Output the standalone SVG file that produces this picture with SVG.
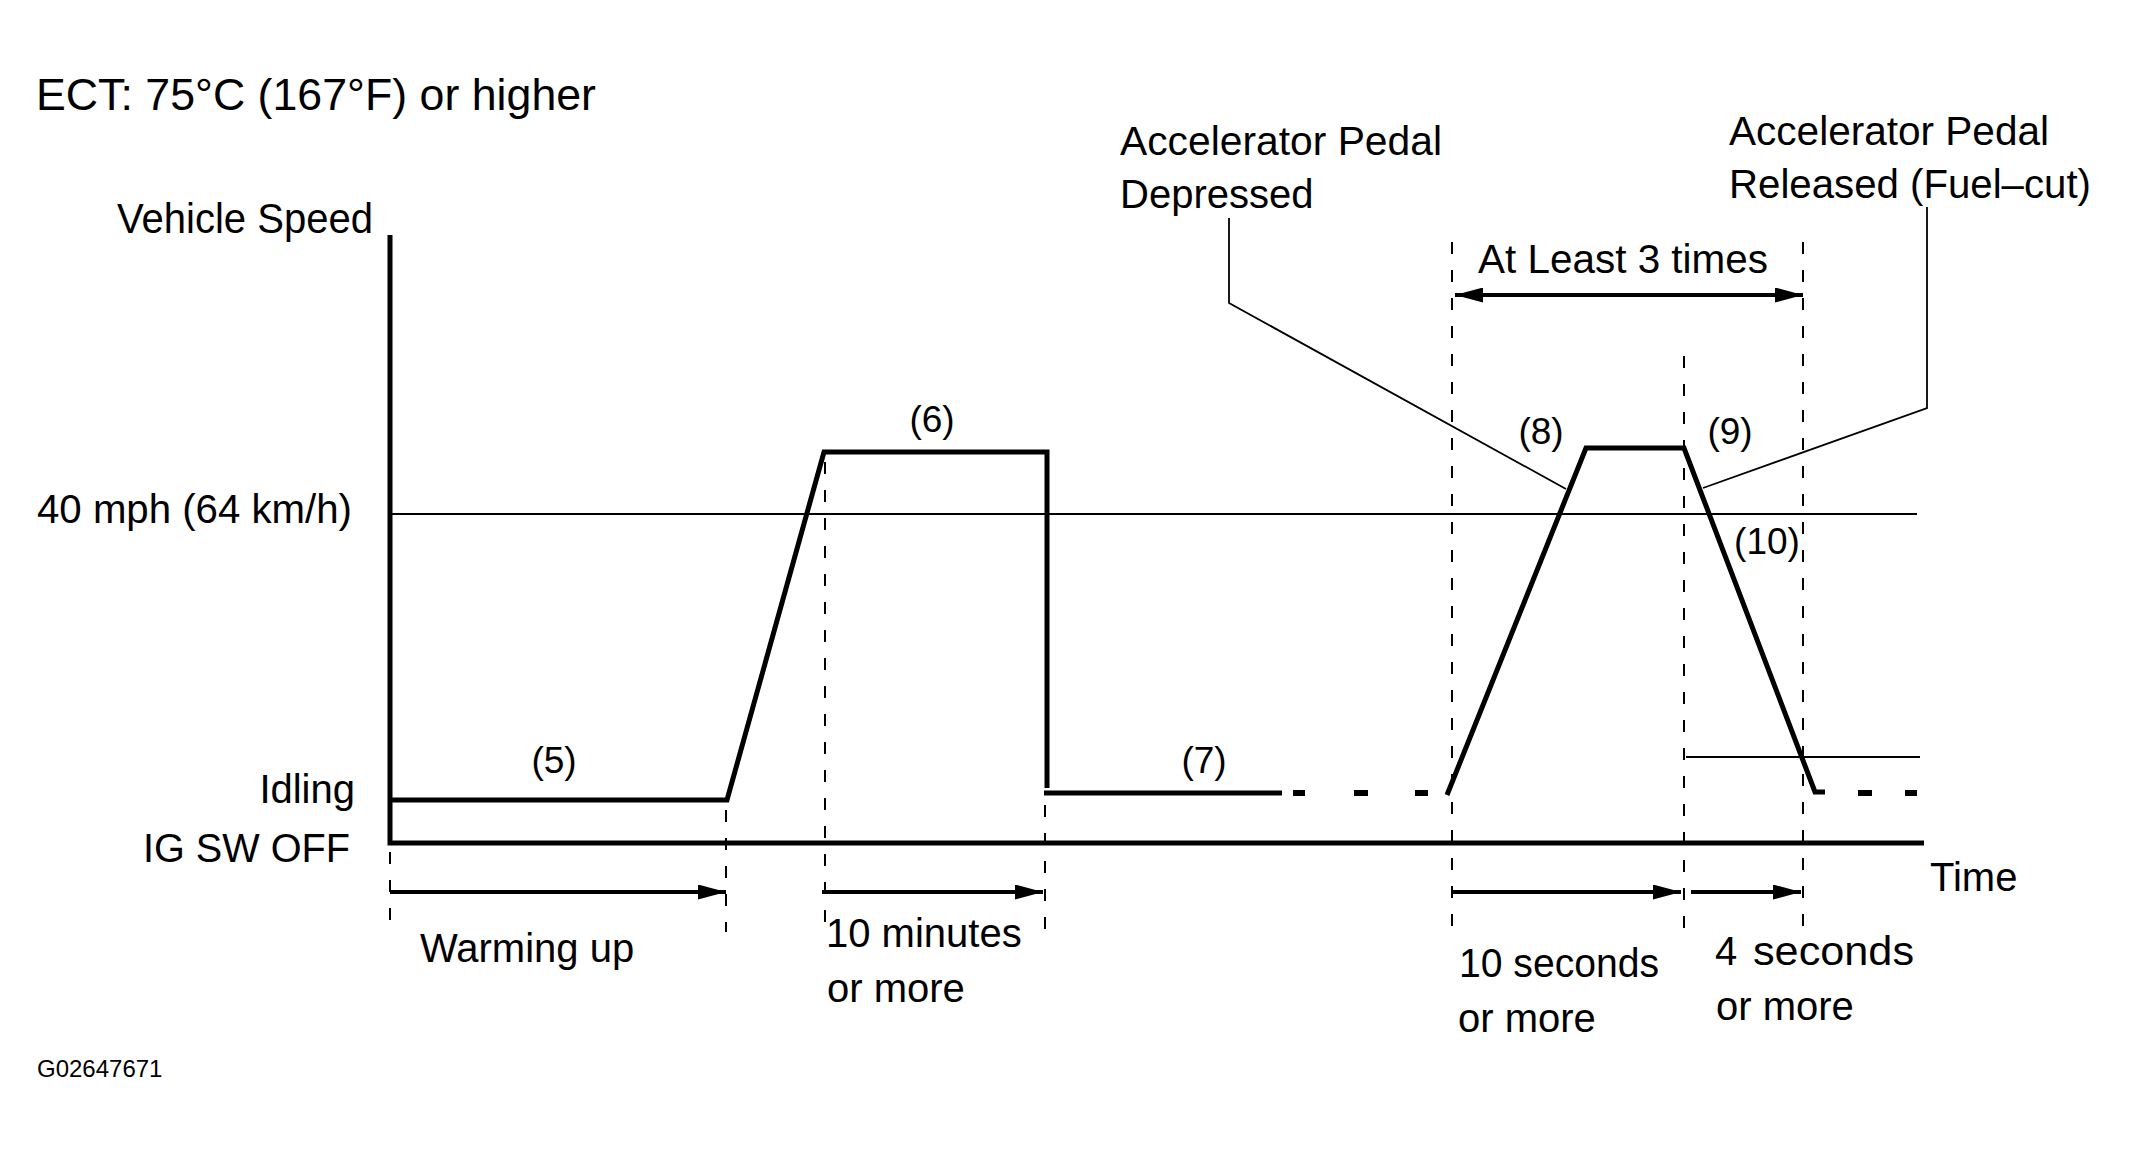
<svg xmlns="http://www.w3.org/2000/svg" width="2129" height="1152" viewBox="0 0 2129 1152">
<style>
  text { font-family: "Liberation Sans", Arial, sans-serif; fill: #000; }
  .lbl { font-size: 40px; }
  .num { font-size: 37px; text-anchor: middle; }
  .thick { fill: none; stroke: #000; stroke-width: 5; stroke-linejoin: miter; stroke-linecap: butt; }
  .thin { fill: none; stroke: #000; stroke-width: 2; }
  .lead { fill: none; stroke: #000; stroke-width: 1.8; }
  .dash { fill: none; stroke: #000; stroke-width: 2; stroke-dasharray: 12 16; }
  .dot { fill: none; stroke: #000; stroke-width: 6; stroke-linecap: butt; }
  .arr { fill: none; stroke: #000; stroke-width: 4; }
</style>
<defs>
  <marker id="ah" markerUnits="userSpaceOnUse" markerWidth="28" markerHeight="15" refX="28" refY="7.5" orient="auto-start-reverse">
    <path d="M0,0 L28,7.5 L0,15 Z" fill="#000"/>
  </marker>
</defs>
<rect width="2129" height="1152" fill="#fff"/>

<g id="titles">
  <text x="36" y="110" font-size="44" textLength="560" lengthAdjust="spacingAndGlyphs">ECT: 75°C (167°F) or higher</text>
  <text x="117" y="233" font-size="42" textLength="256" lengthAdjust="spacingAndGlyphs">Vehicle Speed</text>
  <text class="lbl" x="37" y="523" textLength="315" lengthAdjust="spacingAndGlyphs">40 mph (64 km/h)</text>
  <text class="lbl" x="355" y="803" text-anchor="end">Idling</text>
  <text class="lbl" x="143" y="862" textLength="207" lengthAdjust="spacingAndGlyphs">IG SW OFF</text>
  <text class="lbl" x="1930" y="891">Time</text>
  <text x="37" y="1077" font-size="24">G02647671</text>
</g>

<g id="gridlines">
  <path class="thin" d="M390,514 L1917,514"/>
  <path class="thin" d="M1686,757 L1920,757"/>
  <path class="dash" d="M390,852 L390,932"/>
  <path class="dash" d="M726,810 L726,932"/>
  <path class="dash" d="M825,462 L825,932"/>
  <path class="dash" d="M1045,805 L1045,932"/>
  <path class="dash" d="M1452,242 L1452,937"/>
  <path class="dash" d="M1684,356 L1684,937"/>
  <path class="dash" d="M1803,242 L1803,937"/>
</g>

<g id="axes">
  <path class="thick" d="M390,235 L390,843 L1924,843"/>
</g>

<g id="speed-trace">
  <path class="thick" d="M390,800 L727,800 L824,452 L1047,452 L1047,788"/>
  <path class="thick" d="M1044,793 L1282,793"/>
  <path class="dot" d="M1293,793 L1305,793 M1354,793 L1368,793 M1415,793 L1428,793"/>
  <path class="thick" d="M1447,795 L1586,448 L1684,448 L1815,792 L1825,792"/>
  <path class="dot" d="M1858,793 L1872,793 M1905,793 L1917,793"/>
</g>

<g id="step-labels">
  <text class="num" x="554" y="773">(5)</text>
  <text class="num" x="932" y="432">(6)</text>
  <text class="num" x="1204" y="773">(7)</text>
  <text class="num" x="1541" y="444">(8)</text>
  <text class="num" x="1730" y="444">(9)</text>
  <text class="num" x="1767" y="554">(10)</text>
</g>

<g id="callout-depressed">
  <text class="lbl" x="1120" y="155" textLength="322" lengthAdjust="spacingAndGlyphs">Accelerator Pedal</text>
  <text class="lbl" x="1120" y="208">Depressed</text>
</g>
<g id="callout-released">
  <text class="lbl" x="1729" y="145" textLength="320" lengthAdjust="spacingAndGlyphs">Accelerator Pedal</text>
  <text class="lbl" x="1729" y="198" textLength="362" lengthAdjust="spacingAndGlyphs">Released (Fuel–cut)</text>
</g>
<g id="repeat-label">
  <text class="lbl" x="1478" y="273" textLength="290" lengthAdjust="spacingAndGlyphs">At Least 3 times</text>
</g>

<g id="duration-labels">
  <text class="lbl" x="420" y="962">Warming up</text>
  <text class="lbl" x="826" y="947">10 minutes</text>
  <text class="lbl" x="827" y="1002">or more</text>
  <text class="lbl" x="1459" y="977" textLength="200" lengthAdjust="spacingAndGlyphs">10 seconds</text>
  <text class="lbl" x="1458" y="1032">or more</text>
  <text class="lbl" x="1715" y="965">4</text>
  <text class="lbl" x="1753" y="965" textLength="161" lengthAdjust="spacingAndGlyphs">seconds</text>
  <text class="lbl" x="1716" y="1020">or more</text>
</g>

<g id="connectors">
  <path class="lead" d="M1229,218 L1229,303 L1566,489"/>
  <path class="lead" d="M1927,207 L1927,408 L1703,488"/>
  <path class="arr" d="M1455,295 L1803,295" marker-start="url(#ah)" marker-end="url(#ah)"/>
  <path class="arr" d="M390,892 L726,892" marker-end="url(#ah)"/>
  <path class="arr" d="M822,892 L1043,892" marker-end="url(#ah)"/>
  <path class="arr" d="M1451,892 L1681,892" marker-end="url(#ah)"/>
  <path class="arr" d="M1691,892 L1801,892" marker-end="url(#ah)"/>
</g>
</svg>
